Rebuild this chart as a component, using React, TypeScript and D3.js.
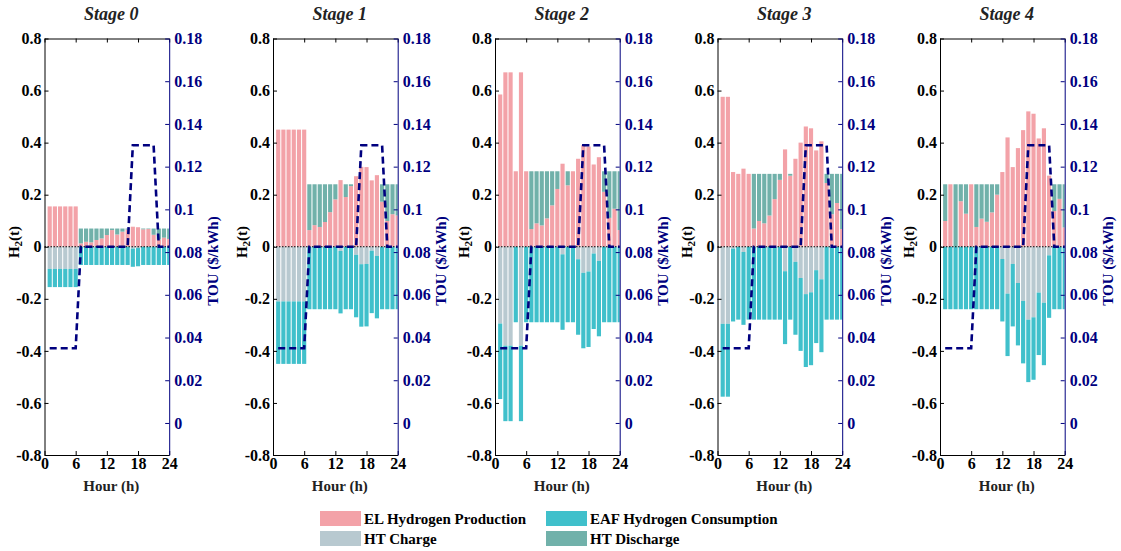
import React, { Component } from "react";
import * as d3 from "d3";

// ---- data ----
const hours = [1, 2, 3, 4, 5, 6, 7, 8, 9, 10, 11, 12, 13, 14, 15, 16, 17, 18, 19, 20, 21, 22, 23, 24];
const stageNames = ["Stage 0", "Stage 1", "Stage 2", "Stage 3", "Stage 4"];

// TOU electricity price ($/kWh)
const touPrice = [0.035, 0.035, 0.035, 0.035, 0.035, 0.035, 0.0825, 0.0825, 0.0825, 0.0825, 0.0825, 0.0825,
  0.0825, 0.0825, 0.0825, 0.0825, 0.13, 0.13, 0.13, 0.13, 0.13, 0.0825, 0.0825, 0.0825];

// Stage 0
const elProduction0 = [0.155, 0.155, 0.155, 0.155, 0.155, 0.155, 0.013, 0.019, 0.017, 0.026, 0.032, 0.045,
  0.064, 0.047, 0.058, 0.066, 0.077, 0.075, 0.067, 0.068, 0.046, 0.028, 0.035, 0.030];
const eafConsumption0 = [0.07, 0.07, 0.07, 0.07, 0.07, 0.07, 0.07, 0.07, 0.07, 0.07, 0.07, 0.07,
  0.07, 0.07, 0.07, 0.07, 0.07, 0.07, 0.07, 0.07, 0.07, 0.07, 0.07, 0.07];
const htCharge0 = [0.085, 0.085, 0.085, 0.085, 0.085, 0.085, 0, 0, 0, 0, 0, 0,
  0, 0, 0, 0, 0.007, 0.005, 0, 0, 0, 0, 0, 0];
const htDischarge0 = [0, 0, 0, 0, 0, 0, 0.057, 0.051, 0.053, 0.044, 0.038, 0.025,
  0.006, 0.023, 0.012, 0.004, 0, 0, 0.003, 0.002, 0.024, 0.042, 0.035, 0.040];

// Stage 1
const elProduction1 = [0.45, 0.45, 0.45, 0.45, 0.45, 0.45, 0.064, 0.083, 0.076, 0.095, 0.133, 0.182,
  0.256, 0.191, 0.233, 0.271, 0.307, 0.306, 0.255, 0.275, 0.173, 0.099, 0.125, 0.120];
const eafConsumption1 = [0.24, 0.24, 0.24, 0.24, 0.24, 0.24, 0.24, 0.24, 0.24, 0.24, 0.24, 0.24,
  0.24, 0.24, 0.24, 0.24, 0.24, 0.24, 0.24, 0.24, 0.24, 0.24, 0.24, 0.24];
const htCharge1 = [0.21, 0.21, 0.21, 0.21, 0.21, 0.21, 0, 0, 0, 0, 0, 0,
  0.016, 0, 0, 0.031, 0.067, 0.066, 0.015, 0.035, 0, 0, 0, 0];
const htDischarge1 = [0, 0, 0, 0, 0, 0, 0.176, 0.157, 0.164, 0.145, 0.107, 0.058,
  0, 0.049, 0.007, 0, 0, 0, 0, 0, 0.067, 0.141, 0.115, 0.120];

// Stage 2
const elProduction2 = [0.585, 0.67, 0.67, 0.29, 0.67, 0.29, 0.068, 0.090, 0.082, 0.109, 0.159, 0.222,
  0.319, 0.236, 0.29, 0.338, 0.39, 0.385, 0.316, 0.344, 0.211, 0.111, 0.146, 0.064];
const eafConsumption2 = [0.29, 0.29, 0.29, 0.29, 0.29, 0.29, 0.29, 0.29, 0.29, 0.29, 0.29, 0.29,
  0.29, 0.29, 0.29, 0.29, 0.29, 0.29, 0.29, 0.29, 0.29, 0.29, 0.29, 0.29];
const htCharge2 = [0.295, 0.38, 0.38, 0, 0.38, 0, 0, 0, 0, 0, 0, 0,
  0.029, 0, 0, 0.048, 0.10, 0.095, 0.026, 0.054, 0, 0, 0, 0];
const htDischarge2 = [0, 0, 0, 0, 0, 0, 0.222, 0.200, 0.208, 0.181, 0.131, 0.068,
  0, 0.054, 0, 0, 0, 0, 0, 0, 0.079, 0.179, 0.144, 0.226];

// Stage 3
const elProduction3 = [0.576, 0.576, 0.287, 0.280, 0.300, 0.280, 0.070, 0.099, 0.090, 0.120, 0.183, 0.257,
  0.374, 0.273, 0.338, 0.400, 0.462, 0.455, 0.370, 0.405, 0.245, 0.125, 0.168, 0.068];
const eafConsumption3 = [0.28, 0.28, 0.28, 0.28, 0.28, 0.28, 0.28, 0.28, 0.28, 0.28, 0.28, 0.28,
  0.28, 0.28, 0.28, 0.28, 0.28, 0.28, 0.28, 0.28, 0.28, 0.28, 0.28, 0.28];
const htCharge3 = [0.296, 0.296, 0.007, 0, 0.02, 0, 0, 0, 0, 0, 0, 0,
  0.094, 0, 0.058, 0.12, 0.182, 0.175, 0.09, 0.125, 0, 0, 0, 0];
const htDischarge3 = [0, 0, 0, 0, 0, 0, 0.21, 0.181, 0.19, 0.16, 0.097, 0.023,
  0, 0.007, 0, 0, 0, 0, 0, 0, 0.035, 0.155, 0.112, 0.212];

// Stage 4
const elProduction4 = [0.099, 0.24, 0, 0.175, 0.127, 0.24, 0.076, 0.108, 0.096, 0.132, 0.200, 0.287,
  0.420, 0.306, 0.379, 0.448, 0.520, 0.511, 0.416, 0.455, 0.273, 0.137, 0.184, 0.074];
const eafConsumption4 = [0.24, 0.24, 0.24, 0.24, 0.24, 0.24, 0.24, 0.24, 0.24, 0.24, 0.24, 0.24,
  0.24, 0.24, 0.24, 0.24, 0.24, 0.24, 0.24, 0.24, 0.24, 0.24, 0.24, 0.24];
const htCharge4 = [0, 0, 0, 0, 0, 0, 0, 0, 0, 0, 0, 0.047,
  0.18, 0.066, 0.139, 0.208, 0.28, 0.271, 0.176, 0.215, 0.033, 0, 0, 0];
const htDischarge4 = [0.141, 0, 0.24, 0.065, 0.113, 0, 0.164, 0.132, 0.144, 0.108, 0.04, 0,
  0, 0, 0, 0, 0, 0, 0, 0, 0, 0.103, 0.056, 0.166];

const yLeftTicks = [-0.8, -0.6, -0.4, -0.2, 0, 0.2, 0.4, 0.6, 0.8];
const yRightTicks = [0, 0.02, 0.04, 0.06, 0.08, 0.1, 0.12, 0.14, 0.16, 0.18];
const xTicks = [0, 6, 12, 18, 24];

const colors = {
  el: "#f3a2a8",
  eaf: "#40c0cb",
  charge: "#b8c9d0",
  discharge: "#71b1aa",
  tou: "#00007f"
};

const legendItems = [
  { label: "EL Hydrogen Production", color: colors.el },
  { label: "EAF Hydrogen Consumption", color: colors.eaf },
  { label: "HT Charge", color: colors.charge },
  { label: "HT Discharge", color: colors.discharge }
];

const stages = [
  { el: elProduction0, eaf: eafConsumption0, charge: htCharge0, discharge: htDischarge0 },
  { el: elProduction1, eaf: eafConsumption1, charge: htCharge1, discharge: htDischarge1 },
  { el: elProduction2, eaf: eafConsumption2, charge: htCharge2, discharge: htDischarge2 },
  { el: elProduction3, eaf: eafConsumption3, charge: htCharge3, discharge: htDischarge3 },
  { el: elProduction4, eaf: eafConsumption4, charge: htCharge4, discharge: htDischarge4 }
];

// ---- layout ----
const WIDTH = 1121;
const HEIGHT = 551;
const panelLeft = [44.5, 273, 495, 717.5, 940];
const panelWidth = 124.7;
const plotTop = 38.5;
const plotBottom = 455;
const FONT = "'Liberation Serif', 'Times New Roman', serif";

class App extends Component {
  viz = React.createRef<SVGSVGElement>();

  componentDidMount() {
    this.drawChart();
  }

  styleAxis = (g: any, color: string) => {
    g.attr("font-family", FONT)
      .attr("font-size", 16)
      .attr("font-weight", "bold");
    g.select(".domain").attr("stroke", color).attr("stroke-width", 1);
    g.selectAll(".tick line").attr("stroke", color);
    g.selectAll(".tick text").attr("fill", color);
  }

  drawPanel = (svg: any, stage: any, i: number) => {
    const left = panelLeft[i];
    const x = d3.scaleLinear().domain([0, 24]).range([left, left + panelWidth]);
    const y = d3.scaleLinear().domain([-0.8, 0.8]).range([plotBottom, plotTop]);
    const yTou = d3.scaleLinear().domain([-0.015, 0.18]).range([plotBottom, plotTop]);
    const bw = x(0.8) - x(0);

    const rows = hours.map((h, k) => ({
      h,
      el: stage.el[k],
      eaf: stage.eaf[k],
      charge: stage.charge[k],
      discharge: stage.discharge[k],
      tou: touPrice[k]
    }));

    const g = svg.append("g").attr("class", "panel");

    g.append("clipPath")
      .attr("id", "clip" + i)
      .append("rect")
      .attr("x", x(0))
      .attr("y", plotTop)
      .attr("width", x(24) - x(0))
      .attr("height", plotBottom - plotTop);

    const bars = g.append("g").attr("clip-path", "url(#clip" + i + ")");

    const layers = [
      { color: colors.el, y0: (d: any) => 0, y1: (d: any) => d.el },
      { color: colors.discharge, y0: (d: any) => d.el, y1: (d: any) => d.el + d.discharge },
      { color: colors.charge, y0: (d: any) => 0, y1: (d: any) => -d.charge },
      { color: colors.eaf, y0: (d: any) => -d.charge, y1: (d: any) => -(d.charge + d.eaf) }
    ];

    layers.forEach(layer => {
      bars.selectAll(null)
        .data(rows.filter(d => Math.abs(layer.y1(d) - layer.y0(d)) > 0))
        .enter()
        .append("rect")
        .attr("x", (d: any) => x(d.h) - bw / 2)
        .attr("width", bw)
        .attr("y", (d: any) => y(Math.max(layer.y0(d), layer.y1(d))))
        .attr("height", (d: any) => Math.abs(y(layer.y0(d)) - y(layer.y1(d))))
        .attr("fill", layer.color);
    });

    // zero reference
    g.append("line")
      .attr("x1", x(0))
      .attr("x2", x(24))
      .attr("y1", y(0))
      .attr("y2", y(0))
      .attr("stroke", "#000")
      .attr("stroke-width", 1)
      .attr("stroke-dasharray", "1.5,1.5");

    // TOU price
    const line = d3.line<any>()
      .x(d => x(d.h))
      .y(d => yTou(d.tou));

    g.append("path")
      .datum(rows)
      .attr("d", line)
      .attr("fill", "none")
      .attr("stroke", colors.tou)
      .attr("stroke-width", 2.6)
      .attr("stroke-dasharray", "7,4");

    // axes
    const gx = g.append("g")
      .attr("transform", "translate(0," + plotBottom + ")")
      .call(d3.axisBottom(x).tickValues(xTicks).tickSize(-4).tickSizeOuter(0).tickPadding(3).tickFormat(d3.format("d")));
    this.styleAxis(gx, "#000");

    const gt = g.append("g")
      .attr("transform", "translate(0," + plotTop + ")")
      .call(d3.axisTop(x).tickValues(xTicks).tickSize(-4).tickSizeOuter(0).tickFormat(() => ""));
    this.styleAxis(gt, "#000");

    const gl = g.append("g")
      .attr("transform", "translate(" + x(0) + ",0)")
      .call(d3.axisLeft(y).tickValues(yLeftTicks).tickSize(-4).tickSizeOuter(0).tickPadding(3)
        .tickFormat((d: any) => (d === 0 ? "0" : String(d))));
    this.styleAxis(gl, "#000");

    const gr = g.append("g")
      .attr("transform", "translate(" + x(24) + ",0)")
      .call(d3.axisRight(yTou).tickValues(yRightTicks).tickSize(-4).tickSizeOuter(0).tickPadding(5)
        .tickFormat((d: any) => (d === 0 ? "0" : String(d))));
    this.styleAxis(gr, colors.tou);

    const cx = (x(0) + x(24)) / 2 + 4.5;

    g.append("text")
      .attr("x", cx)
      .attr("y", 19.5)
      .attr("text-anchor", "middle")
      .attr("font-family", FONT)
      .attr("font-weight", "bold")
      .attr("font-style", "italic")
      .attr("font-size", 18)
      .attr("fill", "#222")
      .text(stageNames[i]);

    g.append("text")
      .attr("x", cx)
      .attr("y", 491)
      .attr("text-anchor", "middle")
      .attr("font-family", FONT)
      .attr("font-weight", "bold")
      .attr("font-size", 15)
      .attr("fill", "#222")
      .text("Hour (h)");

    const hLabel = g.append("text")
      .attr("transform", "translate(" + (x(0) - 26) + ",242) rotate(-90)")
      .attr("text-anchor", "middle")
      .attr("font-family", FONT)
      .attr("font-weight", "bold")
      .attr("font-size", 15)
      .attr("fill", "#000");
    hLabel.append("tspan").text("H");
    hLabel.append("tspan").attr("font-size", 11).attr("dy", 3).text("2");
    hLabel.append("tspan").attr("dy", -3).text("(t)");

    g.append("text")
      .attr("transform", "translate(" + (x(24) + 48.5) + ",261) rotate(-90)")
      .attr("text-anchor", "middle")
      .attr("font-family", FONT)
      .attr("font-weight", "bold")
      .attr("font-size", 15)
      .attr("fill", colors.tou)
      .text("TOU ($/kWh)");
  }

  drawLegend = (svg: any) => {
    const colX = [320, 546];
    const rowY = [511, 531];
    const lg = svg.append("g").attr("class", "legend");
    legendItems.forEach((item, k) => {
      const cx = colX[k % 2];
      const cy = rowY[Math.floor(k / 2)];
      lg.append("rect")
        .attr("x", cx)
        .attr("y", cy)
        .attr("width", 41)
        .attr("height", 15)
        .attr("fill", item.color);
      lg.append("text")
        .attr("x", cx + 44)
        .attr("y", cy + 12.5)
        .attr("font-family", FONT)
        .attr("font-weight", "bold")
        .attr("font-size", 15)
        .attr("fill", "#000")
        .text(item.label);
    });
  }

  drawChart = () => {
    const svg = d3.select(this.viz.current);
    svg.selectAll("*").remove();
    stages.forEach((stage, i) => this.drawPanel(svg, stage, i));
    this.drawLegend(svg);
  }

  render() {
    return (
      <div style={{ position: "absolute", left: 0, top: 0, background: "#fff" }}>
        <svg ref={this.viz} width={WIDTH} height={HEIGHT} style={{ display: "block" }} />
      </div>
    );
  }
}

export default App;
